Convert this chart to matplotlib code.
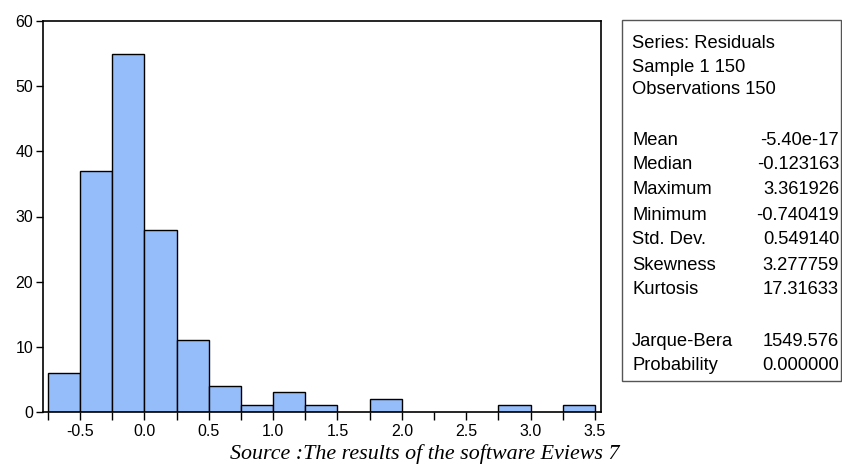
import numpy as np
import matplotlib.pyplot as plt
from matplotlib.patches import Rectangle
from matplotlib.ticker import MultipleLocator

# histogram of residuals (bin width 0.25)
bin_start = -0.75
bin_width = 0.25
counts = [6, 37, 55, 28, 11, 4, 1, 3, 1, 0, 2, 0, 0, 0, 1, 0, 1]

stat_names = ["Mean", "Median", "Maximum", "Minimum", "Std. Dev.",
              "Skewness", "Kurtosis"]
stat_values = ["-5.40e-17", "-0.123163", "3.361926", "-0.740419",
               "0.549140", "3.277759", "17.31633"]
test_names = ["Jarque-Bera", "Probability"]
test_values = ["1549.576", "0.000000"]
header = ["Series: Residuals", "Sample 1 150", "Observations 150"]

W, H = 842, 466
fig = plt.figure(figsize=(W / 100, H / 100), dpi=100)
plt.rcParams['font.family'] = ['Liberation Sans', 'DejaVu Sans']


def fx(px):
    return px / W


def fy(py):
    return 1 - py / H


ax = fig.add_axes([fx(43), fy(412), fx(601) - fx(43), fy(21) - fy(412)])
lefts = bin_start + bin_width * np.arange(len(counts))
mask = np.array(counts) > 0
ax.bar(lefts[mask], np.array(counts)[mask], width=bin_width, align='edge',
       color='#94bdfa', edgecolor='black', linewidth=1.0)

ax.set_xlim(-0.787, 3.547)
ax.set_ylim(0, 60)
ax.xaxis.set_minor_locator(MultipleLocator(0.25))
ax.yaxis.set_major_locator(MultipleLocator(10))
ax.set_xticks(np.arange(-0.5, 3.51, 0.5))
ax.set_xticklabels([f"{v:.1f}" for v in np.arange(-0.5, 3.51, 0.5)])
ax.tick_params(axis='x', which='both', direction='out', length=6, width=1,
               labelsize=11.5, pad=3)
ax.tick_params(axis='y', direction='out', length=5, width=1,
               labelsize=11.5, pad=2)
for s in ax.spines.values():
    s.set_linewidth(1.2)

# statistics box
fig.patches.append(Rectangle((fx(622), fy(381)), fx(841) - fx(622),
                             fy(20) - fy(381), transform=fig.transFigure,
                             facecolor='white', edgecolor='#555555',
                             linewidth=1.0))
for i, t in enumerate(header):
    fig.text(fx(632), fy(44 + 23 * i), t, fontsize=13.2, va='center')
for i, (n, v) in enumerate(zip(stat_names, stat_values)):
    y = fy(140 + 25 * i)
    fig.text(fx(632), y, n, fontsize=13.2, va='center')
    fig.text(fx(839), y, v, fontsize=13.2, va='center', ha='right')
for i, (n, v) in enumerate(zip(test_names, test_values)):
    y = fy(341 + 25 * i)
    fig.text(fx(632), y, n, fontsize=13.2, va='center')
    fig.text(fx(839), y, v, fontsize=13.2, va='center', ha='right')

fig.text(fx(425), fy(454), "Source :The results of the software Eviews 7",
         fontsize=15.8, style='italic', family='Liberation Serif',
         ha='center', va='center')

fig.savefig("out.png", dpi=100)
